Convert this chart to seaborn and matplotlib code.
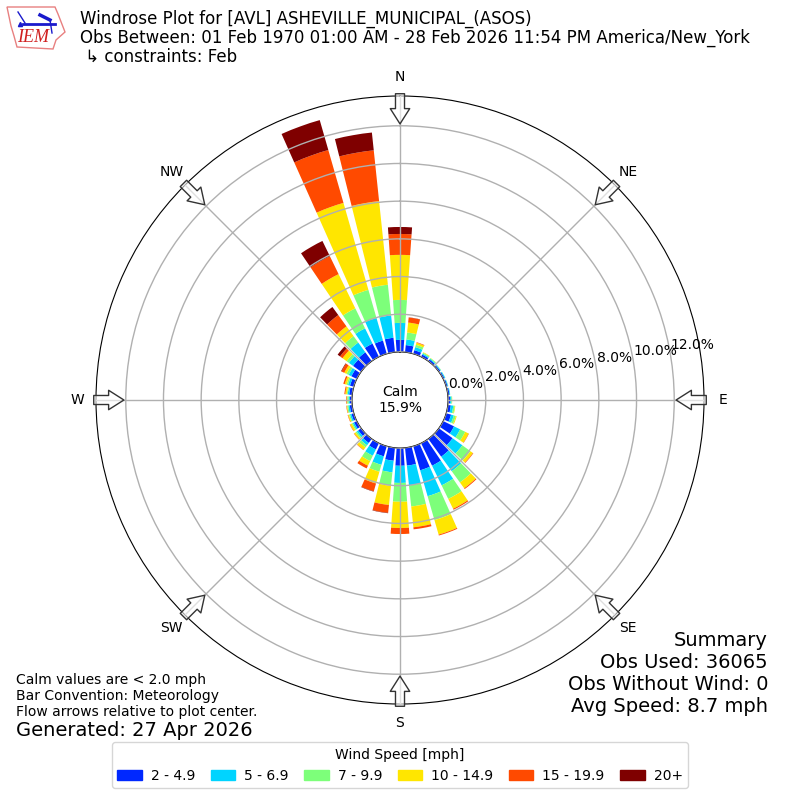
import numpy as np
import pandas as pd
import seaborn as sns
import matplotlib.pyplot as plt
from matplotlib.patches import Patch, Polygon

# wind direction (deg) and percent of obs in each speed bin
directions = list(range(0, 360, 10))
bin_2_5 = [.64, .38, .20, .13, .11, .09, .08, .08, .09, .11, .16, .27,
           .64, .90, 1.17, 1.33, 1.33, .95, .94, .69, .56, .37, .27, .19,
           .16, .13, .13, .11, .16, .21, .32, .53, .58, .78, .73, .77]
bin_5_7 = [.90, .30, .17, .06, .05, .04, .04, .03, .03, .07, .13, .15,
           .36, .64, .95, 1.16, 1.43, 1.05, .91, .62, .47, .37, .15, .10,
           .08, .08, .08, .07, .08, .11, .16, .27, .64, .90, 1.25, 1.19]
bin_7_10 = [1.22, .37, .13, .05, .04, .02, .01, .01, .01, .03, .08, .11,
            .30, .53, .74, .80, 1.32, 1.13, 1.00, .72, .38, .32, .14, .08,
            .06, .06, .06, .07, .05, .08, .13, .15, .42, 1.18, 1.55, 1.64]
bin_10_15 = [2.39, .53, .11, .03, .01, 0, 0, 0, 0, .01, .03, .05,
             .20, .16, .38, .58, .80, 1.11, 1.39, 1.02, .65, .27, .16, .09,
             .10, .05, .03, .03, .08, .10, .13, .27, .64, 2.02, 4.80, 4.46]
bin_15_20 = [1.11, .27, .03, 0, 0, 0, 0, 0, 0, 0, 0, 0,
             .02, .03, .05, .06, .05, .11, .32, .42, .43, .16, .02, .02,
             .02, .02, .02, .03, .05, .08, .16, .16, .74, 1.06, 2.92, 2.71]
bin_20 = [.37, .01, 0, 0, 0, 0, 0, 0, 0, 0, 0, 0,
          0, 0, 0, 0, 0, 0, 0, .02, .02, 0, 0, 0,
          0, 0, 0, 0, 0, 0, .03, .16, .53, .90, 1.65, .95]

speed_bins = [bin_2_5, bin_5_7, bin_7_10, bin_10_15, bin_15_20, bin_20]
speed_labels = ["2 - 4.9", "5 - 6.9", "7 - 9.9", "10 - 14.9", "15 - 19.9", "20+"]
colors = ["#0028ff", "#00d4ff", "#7dff7a", "#ffe600", "#ff4a00", "#7f0000"]
ring_ticks = [0, 2, 4, 6, 8, 10, 12]
compass = ["N", "NE", "E", "SE", "S", "SW", "W", "NW"]
summary_lines = ["Summary", "Obs Used: 36065", "Obs Without Wind: 0", "Avg Speed: 8.7 mph"]

fig = plt.figure(figsize=(8, 8), dpi=100)
ax = fig.add_axes([0.12, 0.12, 0.76, 0.76], projection="polar")
ax.set_theta_zero_location("N")
ax.set_theta_direction(-1)

df = pd.DataFrame({"theta": np.deg2rad(directions)})
bottom = np.zeros(len(directions))
for vals, color in zip(speed_bins, colors):
    df["pct"] = vals
    sns.barplot(data=df, x="theta", y="pct", native_scale=True, width=0.8,
                color=color, saturation=1, errorbar=None, bottom=bottom,
                linewidth=0, zorder=2, ax=ax)
    bottom = bottom + np.array(vals)

ax.set_xlabel("")
ax.set_ylabel("")
ax.set_rorigin(-2.55)
ax.set_ylim(0, 13.58)
ax.set_yticks(ring_ticks)
ax.set_yticklabels([])
ax.set_xticks(np.deg2rad(np.arange(0, 360, 45)))
ax.set_xticklabels(compass, fontsize=10)
ax.tick_params(axis="x", pad=3)
ax.grid(True, color="#b0b0b0", lw=1)
ax.set_axisbelow(False)

# ring labels sit just above the ring, along one spoke
for t in ring_ticks:
    ax.annotate("%.1f%%" % t, xy=(np.deg2rad(80), t), xytext=(0.5, 5.5), textcoords="offset points",
                fontsize=10, ha="left", va="center", annotation_clip=False, zorder=5)

# flow arrows, pointing at the plot center
for deg in range(0, 360, 45):
    ax.annotate("", xy=(np.deg2rad(deg), 12.1), xytext=(np.deg2rad(deg), 13.7),
                arrowprops=dict(width=6.5, headwidth=14, headlength=11, shrink=0,
                                facecolor=(1, 1, 1, 0.6), edgecolor="#333333", lw=1),
                annotation_clip=False, zorder=4)

ax.text(0.5, 0.5, "Calm\n15.9%", transform=ax.transAxes, ha="center", va="center", fontsize=10)

# header
fig.text(80 / 800, 1 - 10 / 800,
         "Windrose Plot for [AVL] ASHEVILLE_MUNICIPAL_(ASOS)\n"
         "Obs Between: 01 Feb 1970 01:00 AM - 28 Feb 2026 11:54 PM America/New_York\n"
         " ↳ constraints: Feb", fontsize=12, va="top", ha="left", linespacing=1.06)

# notes bottom left
fig.text(16 / 800, 1 - 673 / 800,
         "Calm values are < 2.0 mph\nBar Convention: Meteorology\nFlow arrows relative to plot center.",
         fontsize=10, va="top", ha="left", linespacing=1.17)
fig.text(16 / 800, 1 - 730 / 800, "Generated: 27 Apr 2026", fontsize=14, va="center", ha="left")

# summary bottom right
for i, line in enumerate(summary_lines):
    fig.text(768 / 800, 1 - (640 + 22 * i) / 800, line, fontsize=14, va="center", ha="right")

handles = [Patch(color=c, label=l) for c, l in zip(colors, speed_labels)]
fig.legend(handles=handles, title="Wind Speed [mph]", ncol=6, fontsize=10, title_fontsize=10,
           loc="lower center", bbox_to_anchor=(0.5, 0.00625), handlelength=1.75,
           handletextpad=0.65, columnspacing=1.13)

# rough IEM logo
logo = fig.add_axes([6 / 800, 1 - 50 / 800, 60 / 800, 44 / 800])
logo.axis("off")
logo.set_xlim(0, 60)
logo.set_ylim(44, 0)
outline = [(1, 1), (49, 1), (52, 8), (59, 26), (50, 34), (47, 43), (11, 41), (8, 30), (5, 20)]
logo.add_patch(Polygon(outline, closed=True, fill=False, edgecolor="#e88080", lw=1, clip_on=False))
logo.plot([17, 49], [18, 18], color="#1a1acc", lw=2)
logo.plot([12, 19], [6, 17], color="#1a1acc", lw=1)
logo.plot([34, 44], [9, 14], color="#1a1acc", lw=2.5)
logo.plot([44, 46], [14, 27], color="#1a1acc", lw=1)
logo.plot([14], [18], marker="^", color="#1a1acc", ms=3)
logo.text(11, 32, "IEM", color="#d02020", fontsize=13, style="italic", family="Liberation Serif",
          va="center", ha="left")

fig.savefig("out.png", dpi=100)
